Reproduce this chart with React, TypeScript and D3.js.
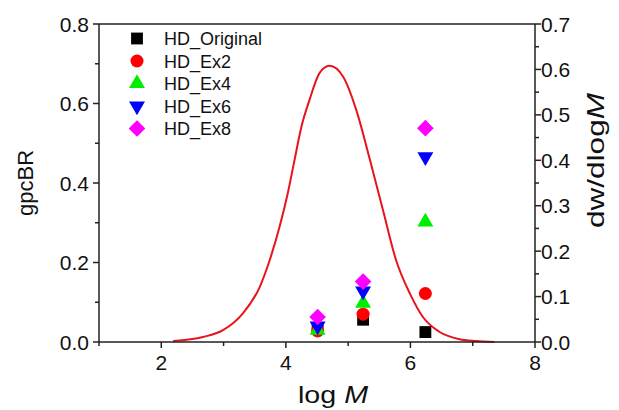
import React from "react";
import * as d3 from "d3";

const seriesNames = ["HD_Original", "HD_Ex2", "HD_Ex4", "HD_Ex6", "HD_Ex8"];
const seriesColors = ["#000000", "#ff0000", "#00ee00", "#0000ff", "#ff00ff"];
const seriesShapes = ["square", "circle", "triangleUp", "triangleDown", "diamond"];
const logMPoints = [4.51, 5.24, 6.24];
const gpcOriginal = [0.035, 0.056, 0.025];
const gpcEx2 = [0.028, 0.07, 0.122];
const gpcEx4 = [0.03, 0.098, 0.302];
const gpcEx6 = [0.04, 0.128, 0.466];
const gpcEx8 = [0.063, 0.152, 0.538];
const seriesValues = [gpcOriginal, gpcEx2, gpcEx4, gpcEx6, gpcEx8];

const mwdLogM = [2.19, 2.67, 2.99, 3.31, 3.58, 3.74, 3.9, 4.03, 4.14, 4.25, 4.38, 4.54, 4.7, 4.92, 5.13, 5.35, 5.56, 5.77, 5.99, 6.2, 6.47, 6.79, 7.05, 7.35];
const mwdValue = [0.002, 0.011, 0.026, 0.063, 0.121, 0.18, 0.254, 0.327, 0.401, 0.474, 0.533, 0.592, 0.608, 0.584, 0.511, 0.401, 0.29, 0.18, 0.107, 0.055, 0.022, 0.006, 0.002, 0.0];

const xTicks = [2, 4, 6, 8];
const xMinor = [1, 3, 5, 7];
const yLeftTicks = [0, 0.2, 0.4, 0.6, 0.8];
const yLeftMinor = [0.1, 0.3, 0.5, 0.7];
const yRightTicks = [0, 0.1, 0.2, 0.3, 0.4, 0.5, 0.6, 0.7];
const yRightMinor = [0.05, 0.15, 0.25, 0.35, 0.45, 0.55, 0.65];

const L = 99, R = 535, T = 24, B = 342;
const FONT = "Liberation Sans, Arial, sans-serif";
const AX = "#222";

function markerPath(shape: string): { d: string; rot: number } {
  switch (shape) {
    case "square":
      return { d: d3.symbol(d3.symbolSquare, 140)()!, rot: 0 };
    case "circle":
      return { d: d3.symbol(d3.symbolCircle, 133)()!, rot: 0 };
    case "triangleUp":
      return { d: d3.symbol(d3.symbolTriangle, 110)()!, rot: 0 };
    case "triangleDown":
      return { d: d3.symbol(d3.symbolTriangle, 110)()!, rot: 180 };
    default:
      return { d: d3.symbol(d3.symbolSquare, 138)()!, rot: 45 };
  }
}

export default function App() {
  const x = d3.scaleLinear().domain([1, 8]).range([L, R]);
  const yL = d3.scaleLinear().domain([0, 0.8]).range([B, T]);
  const yR = d3.scaleLinear().domain([0, 0.7]).range([B, T]);
  const line = d3
    .line<number>()
    .x((_, i) => x(mwdLogM[i]))
    .y((v) => yR(v))
    .curve(d3.curveMonotoneX);

  const tickFont = 21;
  return (
    <svg width={619} height={410} style={{ position: "absolute", left: 0, top: 0, background: "#fff" }}>
      <rect x={0} y={0} width={619} height={410} fill="#fff" />
      {/* curve */}
      <path d={line(mwdValue)!} fill="none" stroke="#e8141c" strokeWidth={2} />
      {/* markers */}
      {seriesValues.map((vals, si) => {
        const m = markerPath(seriesShapes[si]);
        return vals.map((v, i) => (
          <path
            key={`${si}-${i}`}
            d={m.d}
            fill={seriesColors[si]}
            transform={`translate(${x(logMPoints[i])},${yL(v)}) rotate(${m.rot})`}
          />
        ));
      })}
      {/* frame */}
      <line x1={L} x2={R} y1={T} y2={T} stroke={AX} strokeWidth={1.5} />
      <line x1={L} x2={R} y1={B} y2={B} stroke={AX} strokeWidth={1.5} />
      <line x1={L} x2={L} y1={T} y2={B} stroke={AX} strokeWidth={1.5} />
      <line x1={R} x2={R} y1={T} y2={B} stroke={AX} strokeWidth={1.5} />
      {/* x ticks */}
      {xTicks.map((t) => (
        <g key={`xt${t}`}>
          <line x1={x(t)} x2={x(t)} y1={B} y2={B + 6} stroke={AX} strokeWidth={1.5} />
          <text x={x(t)} y={B + 28} textAnchor="middle" fontSize={tickFont} fontFamily={FONT} fill="#111">
            {t}
          </text>
        </g>
      ))}
      {xMinor.map((t) => (
        <line key={`xm${t}`} x1={x(t)} x2={x(t)} y1={B} y2={B + 4} stroke={AX} strokeWidth={1.5} />
      ))}
      {/* left ticks */}
      {yLeftTicks.map((t) => (
        <g key={`yl${t}`}>
          <line x1={L - 6} x2={L} y1={yL(t)} y2={yL(t)} stroke={AX} strokeWidth={1.5} />
          <text x={L - 10} y={yL(t) + 7.5} textAnchor="end" fontSize={tickFont} fontFamily={FONT} fill="#111">
            {t.toFixed(1)}
          </text>
        </g>
      ))}
      {yLeftMinor.map((t) => (
        <line key={`ylm${t}`} x1={L - 4} x2={L} y1={yL(t)} y2={yL(t)} stroke={AX} strokeWidth={1.5} />
      ))}
      {/* right ticks */}
      {yRightTicks.map((t) => (
        <g key={`yr${t}`}>
          <line x1={R} x2={R + 6} y1={yR(t)} y2={yR(t)} stroke={AX} strokeWidth={1.5} />
          <text x={R + 6} y={yR(t) + 7.5} textAnchor="start" fontSize={tickFont} fontFamily={FONT} fill="#111">
            {t.toFixed(1)}
          </text>
        </g>
      ))}
      {yRightMinor.map((t) => (
        <line key={`yrm${t}`} x1={R} x2={R + 4} y1={yR(t)} y2={yR(t)} stroke={AX} strokeWidth={1.5} />
      ))}
      {/* axis titles */}
      <text
        x={298}
        y={403}
        fontSize={24}
        fontFamily={FONT}
        fill="#111"
        textLength={70}
        lengthAdjust="spacingAndGlyphs"
      >
        log <tspan fontStyle="italic">M</tspan>
      </text>
      <text
        transform={`translate(33,${(T + B) / 2}) rotate(-90)`}
        textAnchor="middle"
        fontSize={22}
        fontFamily={FONT}
        fill="#111"
      >
        gpcBR
      </text>
      <text
        transform={`translate(604,228) rotate(-90)`}
        fontSize={24}
        fontFamily={FONT}
        fill="#111"
        textLength={135}
        lengthAdjust="spacingAndGlyphs"
      >
        dw/dlog<tspan fontStyle="italic">M</tspan>
      </text>
      {/* legend */}
      {seriesNames.map((n, i) => {
        const m = markerPath(seriesShapes[i]);
        const yy = 38.5 + i * 22.5;
        return (
          <g key={`lg${i}`}>
            <path d={m.d} fill={seriesColors[i]} transform={`translate(137,${yy}) rotate(${m.rot})`} />
            <text x={164} y={yy + 6.5} fontSize={18} fontFamily={FONT} fill="#111">
              {n}
            </text>
          </g>
        );
      })}
    </svg>
  );
}
